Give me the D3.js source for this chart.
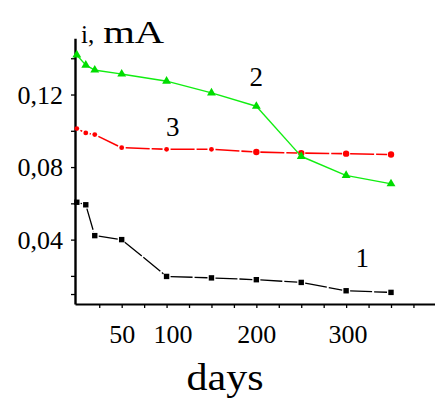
<!DOCTYPE html>
<html>
<head>
<meta charset="utf-8">
<script src="https://cdn.jsdelivr.net/npm/d3@7"></script>
<style>
  html, body { margin: 0; padding: 0; background: #fff; }
  svg { display: block; }
  text { font-family: "Liberation Serif", "Times New Roman", serif; fill: #000; }
</style>
</head>
<body>
<svg id="chart" width="435" height="399"></svg>
<script>
// ---- data ----
const days = [0, 10, 20, 50, 100, 150, 200, 250, 300, 350];
const series1 = [0.0606, 0.0592, 0.0422, 0.0400, 0.0197, 0.0189, 0.0179, 0.0164, 0.0118, 0.0109];
const series2 = [0.1418, 0.1362, 0.1335, 0.1313, 0.1274, 0.1209, 0.1135, 0.0859, 0.0754, 0.0708];
const series3 = [0.1012, 0.0988, 0.0979, 0.0907, 0.0898, 0.0898, 0.0883, 0.0877, 0.0874, 0.0869];
const seriesNames = ["1", "2", "3"];
const xTickValues = [25, 50, 75, 100, 125, 150, 175, 200, 225, 250, 275, 300, 325, 350, 375];
const xTickLabels = { 50: "50", 100: "100", 200: "200", 300: "300" };
const yTickValues = [0.01, 0.02, 0.04, 0.06, 0.08, 0.10, 0.12, 0.14];
const yTickLabels = { "0.04": "0,04", "0.08": "0,08", "0.12": "0,12" };
const yTitle = ["i,", "mA"];
const xTitle = "days";

// ---- scales ----
const svg = d3.select("#chart");
const x = d3.scaleLinear().domain([-2, 399]).range([75, 435]);
const y = d3.scaleLinear().domain([0.0045, 0.151]).range([304, 38.3]);

// ---- axes ----
const xAxis = d3.axisBottom(x)
  .tickValues(xTickValues)
  .tickSize(4)
  .tickSizeOuter(0)
  .tickFormat(d => xTickLabels[d] || "");
const gx = svg.append("g").attr("transform", "translate(0,304)").call(xAxis);
gx.select(".domain").attr("stroke", "#000").attr("stroke-width", 2.2);
gx.selectAll(".tick line").attr("stroke", "#000").attr("stroke-width", 1.3);
gx.selectAll(".tick text")
  .attr("font-size", 26)
  .attr("font-family", "Liberation Serif, serif")
  .attr("fill", "#000")
  .attr("y", 21)
  .attr("dy", "0.71em")
  .attr("dx", d => (d === 100 ? 6 : d === 300 ? 1.5 : 0));

const yAxis = d3.axisLeft(y)
  .tickValues(yTickValues)
  .tickSize(4)
  .tickSizeOuter(0)
  .tickFormat(d => yTickLabels[d.toFixed(2)] || "");
const gy = svg.append("g").attr("transform", "translate(75,0)").call(yAxis);
gy.select(".domain").attr("stroke", "#000").attr("stroke-width", 2.4);
gy.selectAll(".tick line").attr("stroke", "#000").attr("stroke-width", 1.3);
gy.selectAll(".tick text")
  .attr("font-size", 26)
  .attr("font-family", "Liberation Serif, serif")
  .attr("fill", "#000")
  .attr("x", -12)
  .attr("dy", "0.33em");

// ---- lines with gaps around markers ----
function drawSeries(values, color, width, gap, dash) {
  const g = svg.append("g");
  const pts = days.map((d, i) => [x(d), y(values[i])]);
  for (let i = 0; i < pts.length - 1; i++) {
    const [x1, y1] = pts[i], [x2, y2] = pts[i + 1];
    const len = Math.hypot(x2 - x1, y2 - y1);
    if (len <= 2 * gap) continue;
    const ux = (x2 - x1) / len, uy = (y2 - y1) / len;
    g.append("line")
      .attr("x1", x1 + ux * gap).attr("y1", y1 + uy * gap)
      .attr("x2", x2 - ux * gap).attr("y2", y2 - uy * gap)
      .attr("stroke", color).attr("stroke-width", width)
      .attr("stroke-dasharray", dash);
  }
  return { g, pts };
}

// series 1 (black squares)
const s1 = drawSeries(series1, "#000", 1.3, 4, "22,2");
s1.g.selectAll("rect").data(s1.pts).join("rect")
  .attr("x", d => d[0] - 2.7).attr("y", d => d[1] - 2.7)
  .attr("width", 5.4).attr("height", 5.4).attr("fill", "#000");

// series 3 (red circles)
const s3 = drawSeries(series3, "#ff0000", 1.6, 4, "24,2");
s3.g.selectAll("circle").data(s3.pts).join("circle")
  .attr("cx", d => d[0]).attr("cy", d => d[1])
  .attr("r", (d, i) => (i >= 6 ? 3.2 : 2.4)).attr("fill", "#ff0000");

// series 2 (green triangles)
const s2 = drawSeries(series2, "#11ee11", 1.4, 1, null);
const tri = d3.symbol().type(d3.symbolTriangle).size(34);
s2.g.selectAll("path.m").data(s2.pts).join("path")
  .attr("class", "m")
  .attr("transform", d => `translate(${d[0]},${d[1]})`)
  .attr("d", tri).attr("fill", "#00dd00");

// ---- series labels ----
const labelPos = [
  { name: seriesNames[0], day: 318, v: series1[8] },
  { name: seriesNames[1], day: 200, v: series2[6] },
  { name: seriesNames[2], day: 107, v: series3[4] }
];
const labelOffset = [-24, -20, -13];
svg.selectAll("text.slabel").data(labelPos).join("text")
  .attr("class", "slabel")
  .attr("x", d => x(d.day))
  .attr("y", (d, i) => y(d.v) + labelOffset[i])
  .attr("text-anchor", "middle")
  .attr("font-size", 27)
  .text(d => d.name);

// ---- axis titles ----
const t = svg.append("text").attr("x", 81).attr("y", 43);
t.append("tspan").attr("font-size", 25).text(yTitle[0]);
t.append("tspan").attr("font-size", 32).attr("dx", 9)
  .attr("textLength", 61).attr("lengthAdjust", "spacingAndGlyphs").text(yTitle[1]);

svg.append("text")
  .attr("x", 225).attr("y", 390)
  .attr("text-anchor", "middle")
  .attr("font-size", 38)
  .attr("textLength", 77).attr("lengthAdjust", "spacingAndGlyphs")
  .text(xTitle);
</script>
</body>
</html>
